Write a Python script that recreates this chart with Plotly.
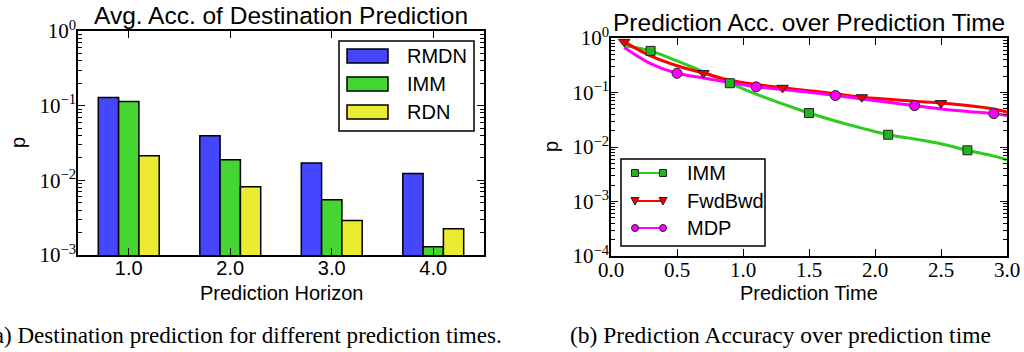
import plotly.graph_objects as go

# ---------------- data ----------------
horizons = [1.0, 2.0, 3.0, 4.0]
horizon_labels = ["1.0", "2.0", "3.0", "4.0"]
rmdn = [0.129, 0.0394, 0.0171, 0.0123]
imm_bar = [0.114, 0.0188, 0.0055, 0.00129]
rdn = [0.0214, 0.0082, 0.0029, 0.00225]

pred_time = [0.1, 0.3, 0.5, 0.7, 0.9, 1.1, 1.3, 1.5, 1.7, 1.9, 2.1, 2.3, 2.5, 2.7, 2.9, 3.0]
imm_curve = [0.72, 0.58, 0.38, 0.24, 0.148, 0.093, 0.062, 0.042, 0.030, 0.0222,
             0.0168, 0.014, 0.0115, 0.0087, 0.0068, 0.0058]
fwdbwd_curve = [0.85, 0.47, 0.31, 0.228, 0.168, 0.14, 0.122, 0.108, 0.095, 0.082,
                0.075, 0.069, 0.064, 0.058, 0.050, 0.044]
mdp_curve = [0.67, 0.34, 0.225, 0.185, 0.152, 0.127, 0.113, 0.101, 0.088, 0.076,
             0.066, 0.0575, 0.050, 0.045, 0.041, 0.038]
# marker positions (indices into pred_time)
imm_mark_idx = [1, 4, 7, 10, 13]
fwdbwd_mark_idx = [0, 3, 6, 9, 12]
mdp_mark_idx = [2, 5, 8, 11, 14]

time_ticks = [0, 0.5, 1.0, 1.5, 2.0, 2.5, 3.0]
time_ticktext = ["0.0", "0.5", "1.0", "1.5", "2.0", "2.5", "3.0"]
left_ticks = [1e-3, 1e-2, 1e-1, 1]
left_ticktext = ["10<sup>−3</sup>", "10<sup>−2</sup>", "10<sup>−1</sup>", "10<sup>0</sup>"]
right_ticks = [1e-4, 1e-3, 1e-2, 1e-1, 1]
right_ticktext = ["10<sup>−4</sup>", "10<sup>−3</sup>", "10<sup>−2</sup>", "10<sup>−1</sup>", "10<sup>0</sup>"]

# ---------------- styling ----------------
W, H = 1024, 352
SANS = "Liberation Sans"
SERIF = "Liberation Serif"
C_BLUE = "#4646FF"
C_GREEN = "#46D634"
C_YELLOW = "#EBEB32"
L_GREEN = "#2FCC1F"
M_GREEN = "#22B322"
L_RED = "#FF0000"
M_RED = "#EE0000"
L_MAG = "#FF00FF"


def px(x):
    return x / W


def py(y):
    return 1 - y / H


def minor_vals(lo, hi):
    vals = []
    for e in range(lo, hi):
        for m in range(2, 10):
            vals.append(m * 10 ** e)
    return vals


fig = go.Figure()

# ---- left: bars ----
for name, vals, col in [("RMDN", rmdn, C_BLUE), ("IMM", imm_bar, C_GREEN), ("RDN", rdn, C_YELLOW)]:
    fig.add_trace(go.Bar(x=horizons, y=vals, name=name, marker=dict(color=col, line=dict(color="black", width=1.5)),
                         xaxis="x", yaxis="y", showlegend=False))

# ---- right: curves ----
series = [
    ("IMM", imm_curve, imm_mark_idx, L_GREEN, M_GREEN, "square", 9),
    ("FwdBwd", fwdbwd_curve, fwdbwd_mark_idx, L_RED, M_RED, "triangle-down", 10),
    ("MDP", mdp_curve, mdp_mark_idx, L_MAG, L_MAG, "circle", 10),
]
for name, vals, idx, lc, mc, sym, ms in series:
    fig.add_trace(go.Scatter(x=pred_time, y=vals, mode="lines", line=dict(color=lc, width=3, shape="spline", smoothing=1.0),
                             xaxis="x2", yaxis="y2", showlegend=False, name=name))
for name, vals, idx, lc, mc, sym, ms in series:
    fig.add_trace(go.Scatter(x=[pred_time[i] for i in idx], y=[vals[i] for i in idx], mode="markers",
                             marker=dict(symbol=sym, size=ms, color=mc, line=dict(color="#222222", width=1)),
                             xaxis="x2", yaxis="y2", showlegend=False, name=name))

axis_common = dict(showline=True, linecolor="black", linewidth=1.5, mirror="allticks", ticks="inside",
                   ticklen=7, tickwidth=1, tickcolor="black", showgrid=False, zeroline=False, automargin=False)

fig.update_layout(
    width=W, height=H, margin=dict(l=0, r=0, t=0, b=0, pad=0, autoexpand=False),
    paper_bgcolor="white", plot_bgcolor="white",
    barmode="group", bargap=0.4, bargroupgap=0,
    xaxis=dict(domain=[px(78), px(484)], anchor="y", range=[0.5, 4.5], tickmode="array", tickvals=horizons,
               ticktext=horizon_labels, tickfont=dict(family=SANS, size=20, color="black"),
               ticklabelstandoff=-6, **axis_common),
    yaxis=dict(domain=[py(255), py(31)], anchor="x", type="log", range=[-3, 0], tickmode="array",
               tickvals=left_ticks, ticktext=left_ticktext, tickfont=dict(family=SERIF, size=21, color="black"),
               minor=dict(ticks="inside", ticklen=4, tickcolor="black", tickmode="array", tickvals=minor_vals(-3, 0)),
               ticklabelstandoff=-4, **axis_common),
    xaxis2=dict(domain=[px(611), px(1007)], anchor="y2", range=[0, 3], tickmode="array",
                tickvals=time_ticks, ticktext=time_ticktext,
                tickfont=dict(family=SERIF, size=21, color="black"), ticklabelstandoff=-6, **axis_common),
    yaxis2=dict(domain=[py(256), py(38)], anchor="x2", type="log", range=[-4, 0], tickmode="array",
                tickvals=right_ticks, ticktext=right_ticktext, tickfont=dict(family=SERIF, size=21, color="black"),
                minor=dict(ticks="inside", ticklen=4, tickcolor="black", tickmode="array", tickvals=minor_vals(-4, 0)),
                ticklabelstandoff=-4, **axis_common),
)

ann = []


def text(x, y, s, size=20, family=SANS, xanchor="center", angle=0):
    ann.append(dict(x=px(x), y=py(y), xref="paper", yref="paper", text=s, showarrow=False, xanchor=xanchor,
                    yanchor="middle", textangle=angle, font=dict(family=family, size=size, color="black")))


text(281, 16, "Avg. Acc. of Destination Prediction", size=24.5)
text(809, 23, "Prediction Acc. over Prediction Time", size=24.5)
text(281, 293, "Prediction Horizon")
text(809, 293, "Prediction Time")
text(18, 143, "p", angle=-90)
text(551, 147, "p", angle=-90)
text(504, 335, "(a) Destination prediction for different prediction times.", size=23.1, family=SERIF, xanchor="right")
text(780, 335, "(b) Prediction Accuracy over prediction time", size=23.5, family=SERIF)

shapes = []


def rect(x0, y0, x1, y1, fill="white", lw=1.5):
    shapes.append(dict(type="rect", xref="paper", yref="paper", x0=px(x0), x1=px(x1), y0=py(y0), y1=py(y1),
                       line=dict(color="black", width=lw), fillcolor=fill, layer="above"))


# left legend
rect(339, 41, 474, 131)
for (name, col), yc in zip([("RMDN", C_BLUE), ("IMM", C_GREEN), ("RDN", C_YELLOW)], [56, 84, 112]):
    rect(347, yc - 7, 388, yc + 7, fill=col)
    text(405, yc, name, xanchor="left")

# right legend
rect(621, 159, 765, 246)
for (name, vals, idx, lc, mc, sym, ms), yc in zip(series, [173, 201, 228]):
    shapes.append(dict(type="line", xref="paper", yref="paper", x0=px(635), x1=px(663), y0=py(yc), y1=py(yc),
                       line=dict(color=lc, width=2), layer="above"))
    for xc in (635, 663):
        r = 3.5
        if sym == "square":
            shapes.append(dict(type="rect", xref="paper", yref="paper", x0=px(xc - r), x1=px(xc + r),
                               y0=py(yc - r), y1=py(yc + r), fillcolor=mc, line=dict(color="#222222", width=1)))
        elif sym == "circle":
            shapes.append(dict(type="circle", xref="paper", yref="paper", x0=px(xc - r), x1=px(xc + r),
                               y0=py(yc - r), y1=py(yc + r), fillcolor=mc, line=dict(color="#222222", width=1)))
        else:
            path = "M {} {} L {} {} L {} {} Z".format(px(xc - 4), py(yc - 3.5), px(xc + 4), py(yc - 3.5), px(xc), py(yc + 4))
            shapes.append(dict(type="path", xref="paper", yref="paper", path=path, fillcolor=mc,
                               line=dict(color="#222222", width=1)))
    text(685, yc, name, xanchor="left")

fig.update_layout(annotations=ann, shapes=shapes)
fig.write_html("out.html", config={"displayModeBar": False},
               post_script="document.body.style.margin='0px';document.body.style.overflow='hidden';")
